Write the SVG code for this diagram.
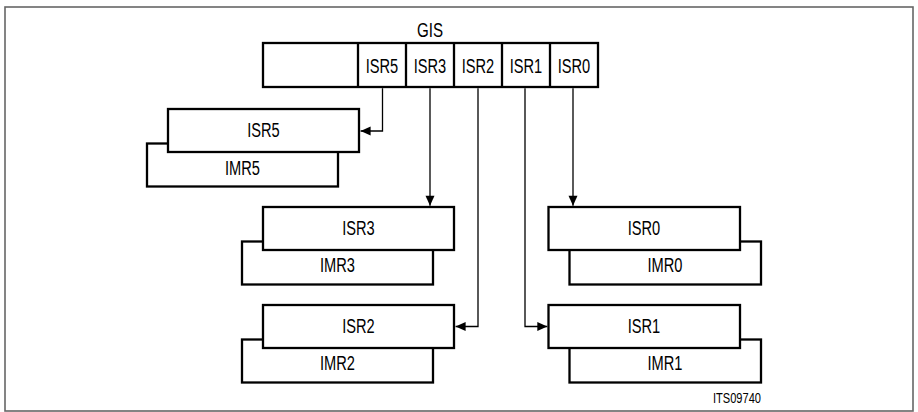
<svg xmlns="http://www.w3.org/2000/svg" width="918" height="412" viewBox="0 0 918 412">
<style>
.frame{fill:none;stroke:#666;stroke-width:1.6}
.box{fill:#fff;stroke:#000;stroke-width:2.3}
.conn{fill:none;stroke:#000;stroke-width:1.3}
text{font-family:"Liberation Sans",Arial,Helvetica,sans-serif;font-size:19.5px;fill:#000;text-anchor:middle}
.small{font-size:14px;text-anchor:end}
</style>
<defs>
<marker id="arr" markerUnits="userSpaceOnUse" markerWidth="12" markerHeight="12" viewBox="0 0 12 12" refX="11" refY="6" orient="auto">
<path d="M1,1.5 L11,6 L1,10.5 Z" fill="#000"/>
</marker>
</defs>
<rect class="frame" x="5" y="7" width="908" height="404"/>
<g id="gis">
<text x="430" y="37" textLength="26" lengthAdjust="spacingAndGlyphs">GIS</text>
<rect class="box" x="263" y="43" width="335" height="44"/>
<path class="box" d="M358,43V87M406,43V87M454,43V87M502,43V87M550,43V87"/>
<text x="382" y="73" textLength="32.5" lengthAdjust="spacingAndGlyphs">ISR5</text>
<text x="430" y="73" textLength="32.5" lengthAdjust="spacingAndGlyphs">ISR3</text>
<text x="478" y="73" textLength="32.5" lengthAdjust="spacingAndGlyphs">ISR2</text>
<text x="526" y="73" textLength="32.5" lengthAdjust="spacingAndGlyphs">ISR1</text>
<text x="574" y="73" textLength="32.5" lengthAdjust="spacingAndGlyphs">ISR0</text>
</g>
<g id="reg5">
<rect class="box" x="147" y="143.5" width="191" height="43"/>
<text x="242.5" y="174.5" textLength="35" lengthAdjust="spacingAndGlyphs">IMR5</text>
<rect class="box" x="168" y="109" width="191" height="43"/>
<text x="263.5" y="137" textLength="32.5" lengthAdjust="spacingAndGlyphs">ISR5</text>
</g>
<g id="reg3">
<rect class="box" x="242" y="241.5" width="191" height="43"/>
<text x="337.5" y="272" textLength="35" lengthAdjust="spacingAndGlyphs">IMR3</text>
<rect class="box" x="263" y="207" width="191" height="43"/>
<text x="358.5" y="235" textLength="32.5" lengthAdjust="spacingAndGlyphs">ISR3</text>
</g>
<g id="reg2">
<rect class="box" x="242" y="339.5" width="191" height="43"/>
<text x="337.5" y="370" textLength="35" lengthAdjust="spacingAndGlyphs">IMR2</text>
<rect class="box" x="263" y="305" width="191" height="43"/>
<text x="358.5" y="333" textLength="32.5" lengthAdjust="spacingAndGlyphs">ISR2</text>
</g>
<g id="reg0">
<rect class="box" x="569.5" y="241.5" width="191.5" height="43"/>
<text x="665" y="272" textLength="35" lengthAdjust="spacingAndGlyphs">IMR0</text>
<rect class="box" x="548.5" y="207" width="191.5" height="43"/>
<text x="644" y="235" textLength="32.5" lengthAdjust="spacingAndGlyphs">ISR0</text>
</g>
<g id="reg1">
<rect class="box" x="569.5" y="339.5" width="191.5" height="43"/>
<text x="665" y="370" textLength="35" lengthAdjust="spacingAndGlyphs">IMR1</text>
<rect class="box" x="548.5" y="305" width="191.5" height="43"/>
<text x="644" y="333" textLength="32.5" lengthAdjust="spacingAndGlyphs">ISR1</text>
</g>
<g id="connectors">
<path class="conn" d="M382.5,88.2V131H360.6" marker-end="url(#arr)"/>
<path class="conn" d="M430,88.2V205.8" marker-end="url(#arr)"/>
<path class="conn" d="M478,88.2V326.5H455.6" marker-end="url(#arr)"/>
<path class="conn" d="M525,88.2V326.5H547.3" marker-end="url(#arr)"/>
<path class="conn" d="M573,88.2V205.8" marker-end="url(#arr)"/>
</g>
<text class="small" x="761" y="403" textLength="48" lengthAdjust="spacingAndGlyphs">ITS09740</text>
</svg>
